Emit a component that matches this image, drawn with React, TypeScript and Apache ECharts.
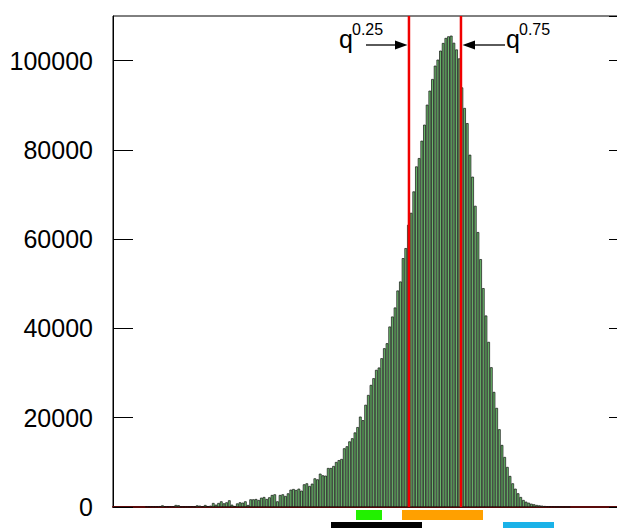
import React, { useEffect, useRef } from 'react';
import * as echarts from 'echarts';

// histogram bin counts (bins of equal width, left to right)
const emptyLeftBins = [0, 0, 0, 0, 0, 0, 0, 0, 0, 0, 0, 0];
const leftTailCounts = [
  150, 100, 150, 100, 150, 200, 370, 150, 100, 150, 150, 450, 400, 80, 80, 60, 80, 100, 60, 370,
  300, 150, 450, 200, 300, 900, 520, 900, 1270, 820, 1050, 1500, 520, 220, 800, 1050, 970, 1270, 450, 1720,
  1720, 1790, 1570, 2090, 2240, 1790, 2170, 2690, 2840, 1270, 2690, 2840, 2470, 3060, 3880, 4030, 3810, 4110, 3660, 5080,
  5300, 4710, 5230, 6420, 6200, 7470, 7100, 7020, 8740, 8740, 9190, 10080, 10500, 10760,
];
const risingCounts = [
  13150, 13600, 14700, 15400, 16700, 17900, 20250, 19450, 22900, 25100, 27350, 28850, 30720, 31240, 33330, 35570,
  36690, 40430, 42670, 44690, 48500, 50520, 55750, 58000, 63220, 65900, 70700, 76300, 78170, 82060, 85650, 90130,
  93270, 95880, 98870, 100220, 102240, 103950, 105080, 105450,
];
const fallingCounts = [
  105600, 104000, 102500, 100500, 94000, 89400, 86000, 78920, 74000, 67480, 61590, 55530, 49030, 42900, 36990, 31310,
  25780, 22200, 17420, 13900, 11210, 8970, 6950, 5310, 4110, 3070, 2240, 1570, 1190, 960, 740, 600,
];
const rightTailCounts = [450, 370, 300, 220, 150, 120, 100, 80, 60, 50, 40, 30, 20];
const emptyRightBins = [0, 0, 0, 0, 0, 0, 0, 0, 0, 0, 0, 0, 0, 0, 0, 0, 0, 0, 0, 0, 0, 0];

// quantile positions, in bin units
const q25Position = 110.7;
const q75Position = 130.15;

// y axis
const yMin = 0;
const yMax = 110000;
const yInterval = 20000;

const counts = [
  ...emptyLeftBins,
  ...leftTailCounts,
  ...risingCounts,
  ...fallingCounts,
  ...rightTailCounts,
  ...emptyRightBins,
];
const binCount = counts.length;
const categories = counts.map((_, i) => String(i));

const FONT = 'Liberation Sans, Arial, Helvetica, sans-serif';

export default function App() {
  const ref = useRef<HTMLDivElement>(null);

  useEffect(() => {
    const chart = echarts.init(ref.current!, null, { renderer: 'svg' });

    const yAxisBase = {
      type: 'value',
      min: yMin,
      max: yMax,
      interval: yInterval,
      splitLine: { show: false },
      axisLine: { show: true, lineStyle: { color: '#000', width: 1 } },
      axisTick: { show: true, inside: true, length: 20, lineStyle: { color: '#000', width: 1 } },
    };

    const option: any = {
      animation: false,
      backgroundColor: '#fff',
      grid: {
        left: 113,
        right: 11,
        top: 16,
        bottom: 21,
        show: true,
        borderColor: '#000',
        borderWidth: 1,
        backgroundColor: 'transparent',
      },
      xAxis: [
        {
          type: 'category',
          data: categories,
          boundaryGap: true,
          axisLine: { show: true, lineStyle: { color: '#5a0a0a', width: 2 } },
          axisTick: { show: false },
          axisLabel: { show: false },
          splitLine: { show: false },
        },
        {
          type: 'value',
          min: 0,
          max: binCount,
          show: false,
        },
      ],
      yAxis: [
        {
          ...yAxisBase,
          position: 'left',
          axisLabel: {
            show: true,
            fontSize: 25,
            fontFamily: FONT,
            color: '#000',
            margin: 20,
            showMaxLabel: false,
            formatter: (v: number) => String(v),
          },
        },
        {
          ...yAxisBase,
          position: 'right',
          axisLabel: { show: false },
        },
      ],
      series: [
        {
          type: 'bar',
          xAxisIndex: 0,
          yAxisIndex: 0,
          data: counts.map((v) => (v === 0 ? '-' : v)),
          barCategoryGap: '0%',
          barGap: '0%',
          itemStyle: { color: '#6cba6c', borderColor: '#111', borderWidth: 0.7 },
          z: 2,
        },
        {
          type: 'line',
          xAxisIndex: 1,
          yAxisIndex: 0,
          data: [
            [q25Position, yMin],
            [q25Position, yMax],
          ],
          symbol: 'none',
          lineStyle: { color: '#f00000', width: 2.5 },
          z: 5,
        },
        {
          type: 'line',
          xAxisIndex: 1,
          yAxisIndex: 0,
          data: [
            [q75Position, yMin],
            [q75Position, yMax],
          ],
          symbol: 'none',
          lineStyle: { color: '#f00000', width: 2.5 },
          z: 5,
        },
      ],
      graphic: [
        // left annotation
        { type: 'text', x: 339, y: 38.7, style: { text: 'q', fontSize: 25, fontFamily: FONT, fill: '#000', verticalAlign: 'middle', align: 'left' } },
        { type: 'text', x: 352, y: 29.5, style: { text: '0.25', fontSize: 16, fontFamily: FONT, fill: '#000', verticalAlign: 'middle', align: 'left' } },
        { type: 'line', shape: { x1: 366, y1: 45, x2: 396, y2: 45 }, style: { stroke: '#000', lineWidth: 1.3 } },
        { type: 'polygon', shape: { points: [[395, 40.5], [407.5, 45], [395, 49.5]] }, style: { fill: '#000' } },
        // right annotation
        { type: 'text', x: 506, y: 38.7, style: { text: 'q', fontSize: 25, fontFamily: FONT, fill: '#000', verticalAlign: 'middle', align: 'left' } },
        { type: 'text', x: 519, y: 29.5, style: { text: '0.75', fontSize: 16, fontFamily: FONT, fill: '#000', verticalAlign: 'middle', align: 'left' } },
        { type: 'line', shape: { x1: 474, y1: 45, x2: 505, y2: 45 }, style: { stroke: '#000', lineWidth: 1.3 } },
        { type: 'polygon', shape: { points: [[475, 40.5], [462.5, 45], [475, 49.5]] }, style: { fill: '#000' } },
        // range bars under the plot
        { type: 'rect', shape: { x: 356, y: 510, width: 26, height: 10 }, style: { fill: '#22f000' } },
        { type: 'rect', shape: { x: 402, y: 510, width: 81, height: 10 }, style: { fill: '#ffa000' } },
        { type: 'rect', shape: { x: 331, y: 522, width: 91, height: 6 }, style: { fill: '#000' } },
        { type: 'rect', shape: { x: 503, y: 522, width: 51, height: 6 }, style: { fill: '#1ab2e8' } },
      ],
    };

    chart.setOption(option);
    return () => chart.dispose();
  }, []);

  return (
    <div style={{ position: 'fixed', left: 0, top: 0, width: 617, height: 528, overflow: 'hidden', background: '#fff' }}>
      <div ref={ref} style={{ width: 640, height: 528 }} />
    </div>
  );
}
